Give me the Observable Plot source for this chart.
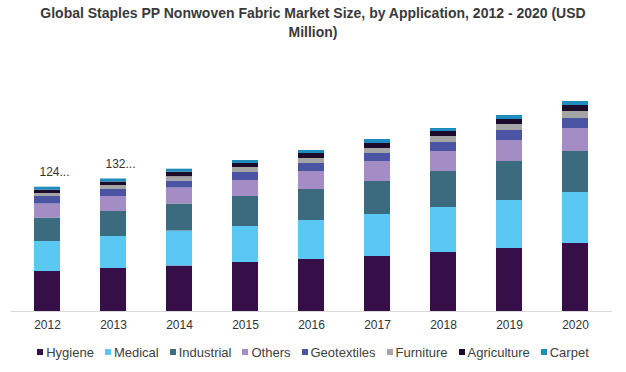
<!DOCTYPE html>
<html>
<head>
<meta charset="utf-8">
<script src="https://cdn.jsdelivr.net/npm/d3@7"></script>
<script src="https://cdn.jsdelivr.net/npm/@observablehq/plot@0.6"></script>
<style>
  html, body { margin: 0; padding: 0; background: #fff; }
  body { width: 626px; height: 372px; overflow: hidden; font-family: "Liberation Sans", Arial, sans-serif; }
  #title { height: 44px; box-sizing: border-box; padding-top: 4px; text-align: center; font-weight: bold; font-size: 14px; line-height: 19px; color: #3a3a3a; }
  #title div { white-space: nowrap; }
  #legend { display: flex; justify-content: center; align-items: center; height: 16px; font-size: 13px; color: #404040; white-space: nowrap; }
  .item { display: flex; align-items: center; margin: 0 5.5px; }
  .sw { width: 6px; height: 6px; margin-right: 3px; }
</style>
</head>
<body>
<div id="title"><div>Global Staples PP Nonwoven Fabric Market Size, by Application, 2012 - 2020 (USD</div><div>Million)</div></div>
<div id="chart"></div>
<div id="legend"></div>
<script>
const years = ["2012", "2013", "2014", "2015", "2016", "2017", "2018", "2019", "2020"];
const seriesNames = ["Hygiene", "Medical", "Industrial", "Others", "Geotextiles", "Furniture", "Agriculture", "Carpet"];
const colors = ["#360f48", "#5bc8f3", "#3c6b80", "#a38dc4", "#4b54a3", "#a5a5a5", "#1c0b2b", "#1f8cc0"];

const hygiene     = [40, 43, 45.5, 49, 52, 55, 59, 63, 68];
const medical     = [30, 32, 35, 36, 39, 42, 45, 48, 51];
const industrial  = [23.5, 25, 27, 30, 31, 33, 36, 39, 41];
const others      = [14, 15, 16, 16, 18, 20, 20, 21, 23];
const geotextiles = [7.5, 7, 7, 8, 8, 8, 9, 10, 10];
const furniture   = [3, 4, 4.3, 5, 5, 5, 6, 6, 7];
const agriculture = [3.3, 3.5, 4.5, 4, 5, 5, 5, 5, 6];
const carpet      = [3, 3, 3, 3, 3, 4, 3, 4, 4];

const labelYears = ["2012", "2013"];
const labelTexts = ["124...", "132..."];

const seriesValues = [hygiene, medical, industrial, others, geotextiles, furniture, agriculture, carpet];
const data = [];
years.forEach((yr, i) => {
  seriesNames.forEach((s, j) => data.push({year: yr, series: s, value: seriesValues[j][i]}));
});
const totals = years.map((yr, i) => d3.sum(seriesValues, arr => arr[i]));
const labelData = labelYears.map((yr, k) => ({year: yr, text: labelTexts[k], total: totals[years.indexOf(yr)]}));

const chart = Plot.plot({
  width: 626,
  height: 300,
  marginTop: 20,
  marginBottom: 33,
  marginLeft: 11,
  marginRight: 14,
  style: {fontFamily: "'Liberation Sans', Arial, sans-serif", fontSize: "12px", color: "#333"},
  x: {domain: years, paddingInner: 0.6, paddingOuter: 0.3, label: null, tickSize: 0, tickPadding: 9},
  y: {domain: [0, 247], axis: null},
  color: {domain: seriesNames, range: colors},
  marks: [
    Plot.barY(data, {x: "year", y: "value", fill: "series", order: null}),
    Plot.ruleY([0], {stroke: "#d9d9d9"}),
    Plot.text(labelData, {x: "year", y: "total", text: "text", dx: 7, dy: -15, fontSize: 12, fill: "#333"})
  ]
});
document.getElementById("chart").appendChild(chart);

const legend = document.getElementById("legend");
seriesNames.forEach((s, j) => {
  const it = document.createElement("div");
  it.className = "item";
  const sw = document.createElement("span");
  sw.className = "sw";
  sw.style.background = colors[j];
  it.appendChild(sw);
  it.appendChild(document.createTextNode(s));
  legend.appendChild(it);
});
</script>
</body>
</html>
